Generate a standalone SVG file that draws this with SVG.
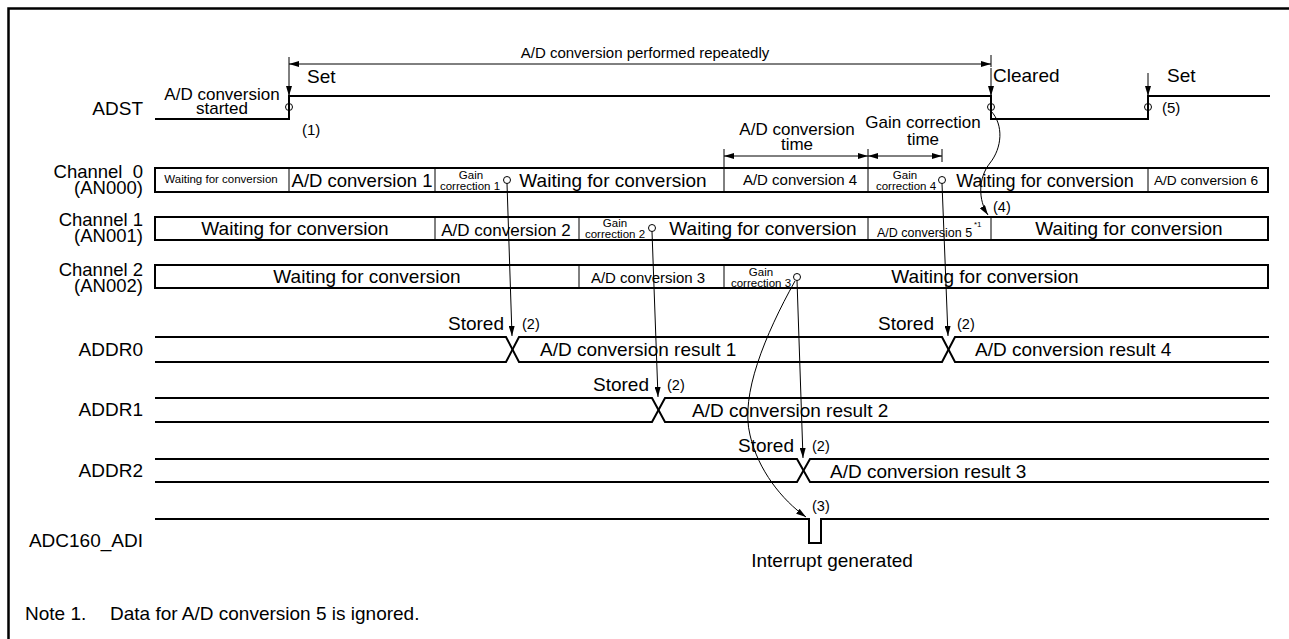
<svg xmlns="http://www.w3.org/2000/svg" width="1289" height="639" viewBox="0 0 1289 639">
<style>
text{font-family:"Liberation Sans",Arial,sans-serif;fill:#000}
.l{font-size:19px}
.c{font-size:18.5px}
.e{text-anchor:end}
.m{text-anchor:middle}
.wave{fill:none;stroke:#000;stroke-width:2}
.row{fill:#fff;stroke:#000;stroke-width:2}
.div{stroke:#000;stroke-width:1}
.cir{fill:none;stroke:#000;stroke-width:1}
.arr{fill:none;stroke:#000;stroke-width:1;marker-end:url(#ah)}
.dim{fill:none;stroke:#000;stroke-width:1;marker-start:url(#ah);marker-end:url(#ah)}
.g{font-size:11.5px}
</style>
<defs>
<marker id="ah" viewBox="0 0 10 6" refX="10" refY="3" markerWidth="10" markerHeight="6" markerUnits="userSpaceOnUse" orient="auto-start-reverse"><path d="M0,0 L10,3 L0,6 z" fill="#000"/></marker>
</defs>
<rect x="8.5" y="8.5" width="1300" height="650" fill="#fff" stroke="#000" stroke-width="2.5"/>

<g id="dimensions">
<line class="div" x1="289" y1="57" x2="289" y2="75"/>
<line class="div" x1="991" y1="55" x2="991" y2="67"/>
<path class="dim" d="M289,64 H991"/>
<text x="645" y="58" class="m" style="font-size:15px">A/D conversion performed repeatedly</text>
<line class="div" x1="724" y1="149" x2="724" y2="168"/>
<line class="div" x1="868" y1="149" x2="868" y2="168"/>
<line class="div" x1="942" y1="149" x2="942" y2="162"/>
<path class="dim" d="M724,156 H868"/>
<path class="dim" d="M868,156 H942"/>
<text x="797" y="135" class="m" style="font-size:17px">A/D conversion</text>
<text x="797" y="150" class="m" style="font-size:17px">time</text>
<text x="923" y="128" class="m" style="font-size:17px">Gain correction</text>
<text x="923" y="145" class="m" style="font-size:17px">time</text>
</g>

<g id="adst">
<text x="143" y="115" class="l e">ADST</text>
<path class="wave" d="M155,119 H289 V96 H991 V119 H1148 V96 H1270"/>
<circle class="cir" cx="289" cy="107" r="3.5"/>
<circle class="cir" cx="991" cy="107" r="3.5"/>
<circle class="cir" cx="1148" cy="107" r="3.5"/>
<text x="222" y="100" class="m" style="font-size:17px">A/D conversion</text>
<text x="222" y="114" class="m" style="font-size:17px">started</text>
<text x="307" y="83" class="l">Set</text>
<text x="302" y="135" style="font-size:15px">(1)</text>
<text x="993" y="82" class="l">Cleared</text>
<text x="1167" y="82" class="l">Set</text>
<text x="1162" y="113" style="font-size:15px">(5)</text>
</g>

<g id="ch0">
<text x="143" y="178" class="c e" xml:space="preserve">Channel  0</text>
<text x="143" y="194" class="c e">(AN000)</text>
<rect class="row" x="155" y="168" width="1113" height="24"/>
<line class="div" x1="289" y1="168" x2="289" y2="192"/>
<line class="div" x1="435" y1="168" x2="435" y2="192"/>
<line class="div" x1="724" y1="168" x2="724" y2="192"/>
<line class="div" x1="868" y1="168" x2="868" y2="192"/>
<line class="div" x1="1148" y1="168" x2="1148" y2="192"/>
<text x="221" y="183" class="m" style="font-size:11.5px">Waiting for conversion</text>
<text x="362" y="187" class="m" style="font-size:18.5px">A/D conversion 1</text>
<text x="471" y="179" class="m g">Gain</text>
<text x="470" y="190" class="m g">correction 1</text>
<circle class="cir" cx="507" cy="180" r="3.5"/>
<text x="613" y="187" class="m l">Waiting for conversion</text>
<text x="800" y="185" class="m" style="font-size:15px">A/D conversion 4</text>
<text x="905" y="179" class="m g">Gain</text>
<text x="906" y="190" class="m g">correction 4</text>
<circle class="cir" cx="942" cy="180" r="3.5"/>
<text x="1045" y="187" class="m" style="font-size:18px">Waiting for conversion</text>
<text x="1206" y="185" class="m" style="font-size:13.7px">A/D conversion 6</text>
</g>

<g id="ch1">
<text x="143" y="226" class="c e">Channel 1</text>
<text x="143" y="242" class="c e">(AN001)</text>
<rect class="row" x="155" y="217" width="1113" height="23"/>
<line class="div" x1="435" y1="217" x2="435" y2="240"/>
<line class="div" x1="579" y1="217" x2="579" y2="240"/>
<line class="div" x1="868" y1="217" x2="868" y2="240"/>
<line class="div" x1="991" y1="217" x2="991" y2="240"/>
<text x="295" y="235" class="m l">Waiting for conversion</text>
<text x="506" y="236" class="m" style="font-size:17px">A/D conversion 2</text>
<text x="615" y="227" class="m g">Gain</text>
<text x="615" y="238" class="m g">correction 2</text>
<circle class="cir" cx="652" cy="228" r="3.5"/>
<text x="763" y="235" class="m l">Waiting for conversion</text>
<text x="877" y="237" style="font-size:12.5px">A/D conversion 5</text>
<text x="974" y="227" style="font-size:8px">*1</text>
<text x="1129" y="235" class="m l">Waiting for conversion</text>
</g>

<g id="ch2">
<text x="143" y="276" class="c e">Channel 2</text>
<text x="143" y="292" class="c e">(AN002)</text>
<rect class="row" x="155" y="265" width="1113" height="23"/>
<line class="div" x1="579" y1="265" x2="579" y2="288"/>
<line class="div" x1="724" y1="265" x2="724" y2="288"/>
<text x="367" y="283" class="m l">Waiting for conversion</text>
<text x="648" y="283" class="m" style="font-size:15px">A/D conversion 3</text>
<text x="761" y="276" class="m g">Gain</text>
<text x="761" y="287" class="m g">correction 3</text>
<circle class="cir" cx="797" cy="277" r="3.5"/>
<text x="985" y="283" class="m l">Waiting for conversion</text>
</g>

<g id="addr0">
<text x="143" y="356" class="l e">ADDR0</text>
<path class="wave" d="M155,337 H506 L519,362 H942 L955,337 H1269"/>
<path class="wave" d="M155,362 H506 L519,337 H942 L955,362 H1269"/>
<text x="540" y="356" class="l">A/D conversion result 1</text>
<text x="975" y="356" class="l">A/D conversion result 4</text>
</g>

<g id="addr1">
<text x="143" y="416" class="l e">ADDR1</text>
<path class="wave" d="M155,398 H652 L665,422 H1269"/>
<path class="wave" d="M155,422 H652 L665,398 H1269"/>
<text x="692" y="417" class="l">A/D conversion result 2</text>
</g>

<g id="addr2">
<text x="143" y="477" class="l e">ADDR2</text>
<path class="wave" d="M155,459 H797 L810,482 H1269"/>
<path class="wave" d="M155,482 H797 L810,459 H1269"/>
<text x="830" y="478" class="l">A/D conversion result 3</text>
</g>

<g id="adi">
<text x="143" y="547" class="l e">ADC160_ADI</text>
<path class="wave" d="M155,519 H809 V543 H821 V519 H1269"/>
<text x="832" y="567" class="m l">Interrupt generated</text>
</g>

<g id="connectors">
<path class="arr" d="M289,75 V96"/>
<path class="arr" d="M991,68 V96"/>
<path class="arr" d="M1148,73 V96"/>
<path class="arr" d="M507,183.5 L512,336"/>
<path class="arr" d="M652,231.5 L658,397"/>
<path class="arr" d="M797,280.5 L803,458"/>
<path class="arr" d="M942,183.5 L948,336"/>
<path class="arr" d="M991,111 C1004,125 1002,148 990,163 C978,178 978,200 988,215"/>
<path class="arr" d="M795,281 C765,335 740,395 750,435 C758,470 782,500 806,517"/>
</g>

<g id="labels">
<text x="448" y="330" class="l">Stored</text>
<text x="522" y="329" style="font-size:14.5px">(2)</text>
<text x="593" y="391" class="l">Stored</text>
<text x="667" y="390" style="font-size:14.5px">(2)</text>
<text x="738" y="452" class="l">Stored</text>
<text x="812" y="451" style="font-size:14.5px">(2)</text>
<text x="878" y="330" class="l">Stored</text>
<text x="957" y="329" style="font-size:14.5px">(2)</text>
<text x="993" y="212" style="font-size:14.5px">(4)</text>
<text x="812" y="511" style="font-size:14.5px">(3)</text>
<text x="25" y="620" class="l">Note 1.</text>
<text x="110" y="620" class="l">Data for A/D conversion 5 is ignored.</text>
</g>
</svg>
